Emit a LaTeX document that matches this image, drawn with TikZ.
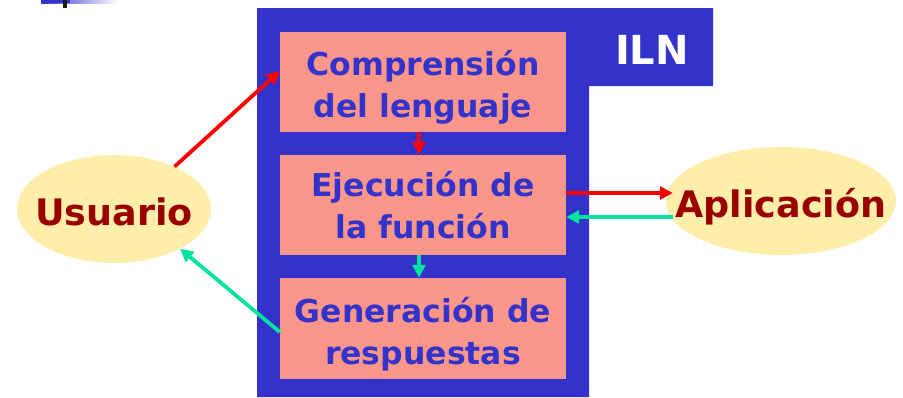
\documentclass[tikz,border=0pt]{standalone}
\usepackage{fontspec}
\setmainfont{DejaVu Sans}
\usetikzlibrary{shapes.geometric,arrows.meta}
\definecolor{ilnblue}{RGB}{51,51,204}
\definecolor{salmon}{RGB}{250,150,138}
\definecolor{paleyellow}{RGB}{255,237,170}
\definecolor{darkred}{RGB}{153,0,0}
\definecolor{arrowred}{RGB}{255,0,0}
\definecolor{arrowgreen}{RGB}{0,228,160}
\tikzset{
  stagebox/.style={rectangle, fill=salmon, minimum width=286pt, minimum height=100pt,
    inner sep=0pt, align=center, text=ilnblue,
    font=\bfseries\fontsize{31.5}{42}\selectfont},
  actor/.style={ellipse, fill=paleyellow, inner sep=0pt},
  actorlabel/.style={text=darkred, inner sep=0pt,
    text height=32pt, text depth=0pt,
    font=\bfseries\fontsize{36.5}{44}\selectfont},
  flow/.style={line width=3.8pt, -{Triangle[length=13pt,width=13pt]}},
  redflow/.style={flow, draw=arrowred},
  greenflow/.style={flow, draw=arrowgreen},
}
\begin{document}
\begin{tikzpicture}[x=1pt,y=-1pt]
\useasboundingbox (0,0) rectangle (903,397);
% title bullet fragment
\shade[left color=ilnblue, right color=white] (41,0) rectangle (118,3);
\fill[ilnblue] (41,0) rectangle (70,3);
\fill[black!90] (63,0) rectangle (67,8);
% ILN frame
\fill[ilnblue] (257,8) -- (713,8) -- (713,86) -- (589,86) -- (589,397) -- (257,397) -- cycle;
\node[text=white, font=\bfseries\fontsize{40}{48}\selectfont, anchor=base] (iln) at (652,64) {ILN};
% stages
\node[stagebox] (comp) at (423,82) {\rule{0pt}{36pt}Comprensión\\del lenguaje};
\node[stagebox] (ejec) at (423,205) {Ejecución de\\la función};
\node[stagebox, minimum height=101pt] (gen) at (423,328.5) {\rule{0pt}{36pt}Generación de\\respuestas};
% actors
\node[actor, minimum width=194pt, minimum height=108pt] (usuario) at (114,209) {};
\node[actorlabel] (usuariotext) at (usuario) {Usuario};
\node[actor, minimum width=230pt, minimum height=108pt] (aplic) at (781,201) {};
\node[actorlabel] (aplictext) at (aplic) {Aplicación};
% arrows
\draw[redflow] (usuario.35) -- ([yshift=11pt]comp.west);
\draw[redflow] ([xshift=-4pt]comp.south) -- ([xshift=-4pt]ejec.north);
\draw[greenflow] ([xshift=-4pt]ejec.south) -- ([xshift=-4pt]gen.north);
\draw[redflow] ([yshift=12pt]ejec.east) -- ([xshift=7pt,yshift=8pt]aplic.west);
\draw[greenflow] ([xshift=7pt,yshift=-16pt]aplic.west) -- ([yshift=-12pt]ejec.east);
\draw[greenflow] ([yshift=-3.5pt]gen.west) -- (usuario.-31);
\end{tikzpicture}
\end{document}
